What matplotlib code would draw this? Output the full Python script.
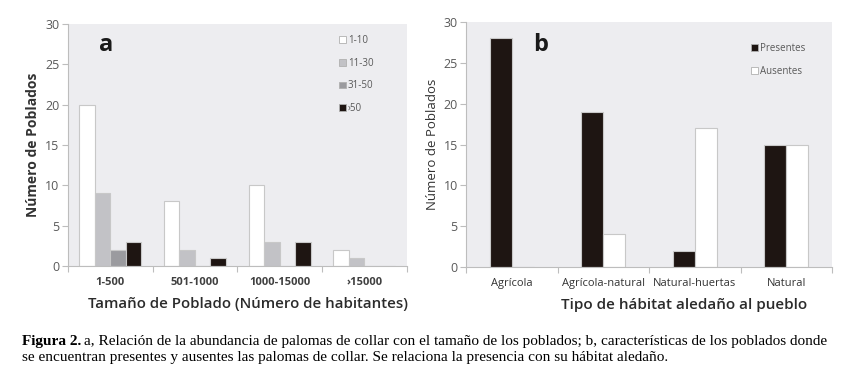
import numpy as np
import matplotlib.pyplot as plt
import matplotlib
from matplotlib.patches import Patch

matplotlib.rcParams['font.family'] = ['Open Sans', 'DejaVu Sans']

# datos panel a
tamanos = ['1-500', '501-1000', '1000-15000', '›15000']
series_a = ['1-10', '11-30', '31-50', '›50']
valores_a = {
    '1-10': [20, 8, 10, 2],
    '11-30': [9, 2, 3, 1],
    '31-50': [2, 0, 0, 0],
    '›50': [3, 1, 3, 0],
}
colores_a = ['#ffffff', '#c2c2c6', '#9b9b9f', '#1e1512']

# datos panel b
habitats = ['Agrícola', 'Agrícola-natural', 'Natural-huertas', 'Natural']
presentes = [28, 19, 2, 15]
ausentes = [0, 4, 17, 15]

fondo = '#ededf0'
gris_eje = '#bdbdbd'
gris_txt = '#595959'

fig = plt.figure(figsize=(8.49, 3.8), dpi=100)
ax_a = fig.add_axes([0.080, 0.300, 0.399, 0.637])
ax_b = fig.add_axes([0.549, 0.297, 0.431, 0.645])


def estilo(ax):
    ax.set_facecolor(fondo)
    for s in ['top', 'right']:
        ax.spines[s].set_visible(False)
    for s in ['left', 'bottom']:
        ax.spines[s].set_color(gris_eje)
        ax.spines[s].set_linewidth(0.8)
    ax.set_ylim(0, 30)
    ax.set_yticks(range(0, 31, 5))
    ax.set_xlim(-0.5, 3.5)
    ax.set_xticks(np.arange(-0.5, 4, 1))
    ax.set_xticklabels([])
    ax.set_xticks(range(4), minor=True)
    ax.tick_params(axis='x', which='major', length=4, color=gris_eje, width=0.8)
    ax.tick_params(axis='x', which='minor', length=0, pad=8)
    ax.tick_params(axis='y', length=4, color=gris_eje, width=0.8,
                   labelsize=9, labelcolor=gris_txt, pad=2)


# ========== panel a ==========
estilo(ax_a)
x = np.arange(len(tamanos))
w = 0.183
for i, (s, c) in enumerate(zip(series_a, colores_a)):
    ax_a.bar(x + (i - 1.5) * w, valores_a[s], w, color=c,
             edgecolor='#c8c8c8', linewidth=0.8, label=s)
ax_a.set_xticklabels(tamanos, minor=True, fontsize=8, fontweight='bold',
                     color='#404040')
ax_a.set_ylabel('Número de Poblados', fontsize=10, fontweight='bold',
                color='#333333', labelpad=4)
ax_a.set_xlabel('Tamaño de Poblado (Número de habitantes)', fontsize=10.8,
                fontweight='semibold', color='#2b2b2b')
ax_a.xaxis.set_label_coords(0.531, -0.128)
ax_a.text(0.112, 0.913, 'a', transform=ax_a.transAxes, fontsize=17,
          fontweight='bold', ha='center', va='center', color='#1a1a1a')
handles_a = [Patch(facecolor=c, edgecolor='#b0b0b0', linewidth=0.6)
             for c in colores_a]
ax_a.legend(handles_a, series_a, loc='upper left', bbox_to_anchor=(0.775, 0.99),
            frameon=False, fontsize=7, labelspacing=1.2, handlelength=0.7,
            handleheight=0.7, handletextpad=0.2, labelcolor=gris_txt)

# ========== panel b ==========
estilo(ax_b)
x = np.arange(len(habitats))
w = 0.24
ax_b.bar(x - w / 2, presentes, w, color='#1e1512', edgecolor='#c8c8c8',
         linewidth=0.8, label='Presentes')
ax_b.bar(x + w / 2, ausentes, w, color='#ffffff', edgecolor='#c8c8c8',
         linewidth=0.8, label='Ausentes')
ax_b.set_xticklabels(habitats, minor=True, fontsize=8, color='#333333')
ax_b.set_ylabel('Número de Poblados', fontsize=9.5, color='#333333', labelpad=3)
ax_b.set_xlabel('Tipo de hábitat aledaño al pueblo', fontsize=11,
                fontweight='semibold', color='#2b2b2b')
ax_b.xaxis.set_label_coords(0.597, -0.127)
ax_b.text(0.205, 0.906, 'b', transform=ax_b.transAxes, fontsize=17,
          fontweight='bold', ha='center', va='center', color='#1a1a1a')
handles_b = [Patch(facecolor='#1e1512', edgecolor='#b0b0b0', linewidth=0.6),
             Patch(facecolor='#ffffff', edgecolor='#b0b0b0', linewidth=0.6)]
ax_b.legend(handles_b, ['Presentes', 'Ausentes'], loc='upper left',
            bbox_to_anchor=(0.755, 0.95), frameon=False, fontsize=7,
            labelspacing=1.25, handlelength=0.7, handleheight=0.7,
            handletextpad=0.2, labelcolor=gris_txt)

# ========== pie de figura ==========
serif = ['Liberation Serif', 'DejaVu Serif']
t1 = fig.text(22 / 849, 1 - 341 / 380, 'Figura 2.', fontsize=11,
              fontweight='bold', family=serif, va='center')
fig.canvas.draw()
bb = t1.get_window_extent()
fig.text((bb.x1 + 3) / 849, 1 - 341 / 380,
         'a, Relación de la abundancia de palomas de collar con el tamaño de los '
         'poblados; b, características de los poblados donde',
         fontsize=11, family=serif, va='center')
fig.text(22 / 849, 1 - 358 / 380,
         'se encuentran presentes y ausentes las palomas de collar. Se relaciona '
         'la presencia con su hábitat aledaño.',
         fontsize=11, family=serif, va='center')

fig.savefig('out.png', dpi=100)
